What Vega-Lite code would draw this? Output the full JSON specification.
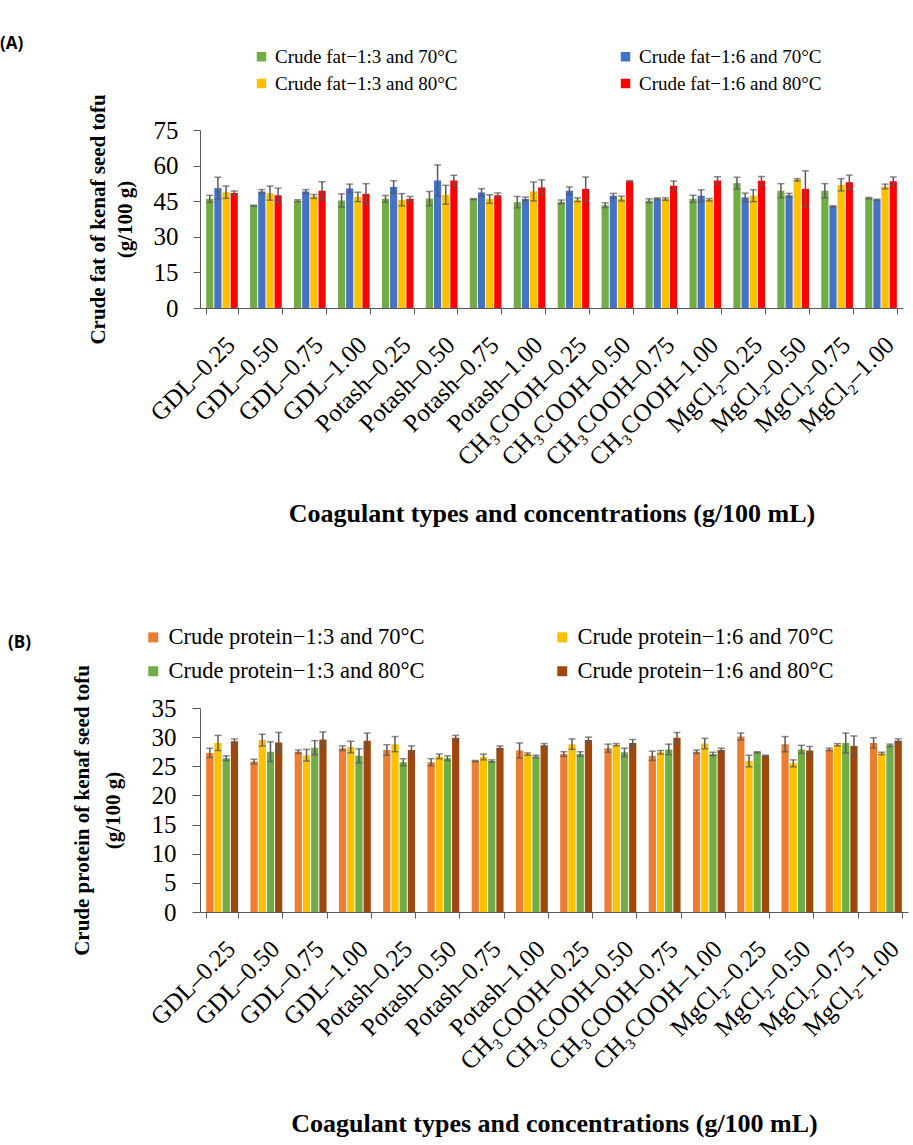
{
  "$schema": "https://vega.github.io/schema/vega-lite/v6.json",
  "background": "white",
  "padding": {"left": 0, "top": 35, "right": 5, "bottom": 5},
  "spacing": 99,
  "config": {
    "font": "Liberation Serif",
    "view": {"stroke": null},
    "axis": {"grid": false, "labelColor": "black", "titleColor": "black", "domainColor": "#595959", "tickColor": "#595959", "labelFont": "Liberation Serif", "titleFont": "Liberation Serif", "labelOverlap": false},
    "legend": {"labelFont": "Liberation Serif", "labelColor": "black"},
    "title": {"font": "Open Sans", "fontWeight": "bold", "color": "black"}
  },
  "resolve": {"scale": {"color": "independent", "xOffset": "independent"}},
  "datasets": {
    "fat": [
      {"c": "GDL–0.25", "s": "Crude fat−1:3 and 70°C", "v": 46.0, "lo": 44.5, "hi": 47.5},
      {"c": "GDL–0.25", "s": "Crude fat−1:6 and 70°C", "v": 50.5, "lo": 45.9, "hi": 55.1},
      {"c": "GDL–0.25", "s": "Crude fat−1:3 and 80°C", "v": 48.8, "lo": 46.2, "hi": 51.4},
      {"c": "GDL–0.25", "s": "Crude fat−1:6 and 80°C", "v": 48.5, "lo": 47.7, "hi": 49.3},
      {"c": "GDL–0.50", "s": "Crude fat−1:3 and 70°C", "v": 43.1, "lo": 42.9, "hi": 43.3},
      {"c": "GDL–0.50", "s": "Crude fat−1:6 and 70°C", "v": 49.1, "lo": 48.3, "hi": 49.9},
      {"c": "GDL–0.50", "s": "Crude fat−1:3 and 80°C", "v": 48.4, "lo": 45.4, "hi": 51.4},
      {"c": "GDL–0.50", "s": "Crude fat−1:6 and 80°C", "v": 47.5, "lo": 44.5, "hi": 50.5},
      {"c": "GDL–0.75", "s": "Crude fat−1:3 and 70°C", "v": 45.2, "lo": 44.8, "hi": 45.6},
      {"c": "GDL–0.75", "s": "Crude fat−1:6 and 70°C", "v": 49.1, "lo": 48.3, "hi": 49.9},
      {"c": "GDL–0.75", "s": "Crude fat−1:3 and 80°C", "v": 47.0, "lo": 46.2, "hi": 47.8},
      {"c": "GDL–0.75", "s": "Crude fat−1:6 and 80°C", "v": 49.4, "lo": 45.6, "hi": 53.2},
      {"c": "GDL–1.00", "s": "Crude fat−1:3 and 70°C", "v": 45.3, "lo": 42.5, "hi": 48.1},
      {"c": "GDL–1.00", "s": "Crude fat−1:6 and 70°C", "v": 50.4, "lo": 48.6, "hi": 52.2},
      {"c": "GDL–1.00", "s": "Crude fat−1:3 and 80°C", "v": 46.8, "lo": 44.8, "hi": 48.8},
      {"c": "GDL–1.00", "s": "Crude fat−1:6 and 80°C", "v": 48.1, "lo": 43.8, "hi": 52.4},
      {"c": "Potash–0.25", "s": "Crude fat−1:3 and 70°C", "v": 46.0, "lo": 44.6, "hi": 47.4},
      {"c": "Potash–0.25", "s": "Crude fat−1:6 and 70°C", "v": 51.0, "lo": 48.4, "hi": 53.6},
      {"c": "Potash–0.25", "s": "Crude fat−1:3 and 80°C", "v": 45.6, "lo": 43.0, "hi": 48.2},
      {"c": "Potash–0.25", "s": "Crude fat−1:6 and 80°C", "v": 46.0, "lo": 45.0, "hi": 47.0},
      {"c": "Potash–0.50", "s": "Crude fat−1:3 and 70°C", "v": 46.1, "lo": 43.1, "hi": 49.1},
      {"c": "Potash–0.50", "s": "Crude fat−1:6 and 70°C", "v": 53.7, "lo": 47.1, "hi": 60.3},
      {"c": "Potash–0.50", "s": "Crude fat−1:3 and 80°C", "v": 47.7, "lo": 43.7, "hi": 51.7},
      {"c": "Potash–0.50", "s": "Crude fat−1:6 and 80°C", "v": 53.7, "lo": 51.5, "hi": 55.9},
      {"c": "Potash–0.75", "s": "Crude fat−1:3 and 70°C", "v": 45.9, "lo": 45.7, "hi": 46.1},
      {"c": "Potash–0.75", "s": "Crude fat−1:6 and 70°C", "v": 48.7, "lo": 47.1, "hi": 50.3},
      {"c": "Potash–0.75", "s": "Crude fat−1:3 and 80°C", "v": 45.9, "lo": 44.1, "hi": 47.7},
      {"c": "Potash–0.75", "s": "Crude fat−1:6 and 80°C", "v": 47.5, "lo": 46.5, "hi": 48.5},
      {"c": "Potash–1.00", "s": "Crude fat−1:3 and 70°C", "v": 44.6, "lo": 42.2, "hi": 47.0},
      {"c": "Potash–1.00", "s": "Crude fat−1:6 and 70°C", "v": 45.9, "lo": 45.1, "hi": 46.7},
      {"c": "Potash–1.00", "s": "Crude fat−1:3 and 80°C", "v": 49.1, "lo": 45.1, "hi": 53.1},
      {"c": "Potash–1.00", "s": "Crude fat−1:6 and 80°C", "v": 50.8, "lo": 47.6, "hi": 54.0},
      {"c": "CH₃COOH–0.25", "s": "Crude fat−1:3 and 70°C", "v": 44.7, "lo": 43.9, "hi": 45.5},
      {"c": "CH₃COOH–0.25", "s": "Crude fat−1:6 and 70°C", "v": 49.4, "lo": 47.8, "hi": 51.0},
      {"c": "CH₃COOH–0.25", "s": "Crude fat−1:3 and 80°C", "v": 45.6, "lo": 44.8, "hi": 46.4},
      {"c": "CH₃COOH–0.25", "s": "Crude fat−1:6 and 80°C", "v": 50.2, "lo": 45.2, "hi": 55.2},
      {"c": "CH₃COOH–0.50", "s": "Crude fat−1:3 and 70°C", "v": 43.3, "lo": 42.3, "hi": 44.3},
      {"c": "CH₃COOH–0.50", "s": "Crude fat−1:6 and 70°C", "v": 47.3, "lo": 46.3, "hi": 48.3},
      {"c": "CH₃COOH–0.50", "s": "Crude fat−1:3 and 80°C", "v": 46.1, "lo": 45.1, "hi": 47.1},
      {"c": "CH₃COOH–0.50", "s": "Crude fat−1:6 and 80°C", "v": 53.4, "lo": 53.1, "hi": 53.7},
      {"c": "CH₃COOH–0.75", "s": "Crude fat−1:3 and 70°C", "v": 45.2, "lo": 44.4, "hi": 46.0},
      {"c": "CH₃COOH–0.75", "s": "Crude fat−1:6 and 70°C", "v": 46.1, "lo": 45.8, "hi": 46.4},
      {"c": "CH₃COOH–0.75", "s": "Crude fat−1:3 and 80°C", "v": 45.9, "lo": 45.4, "hi": 46.4},
      {"c": "CH₃COOH–0.75", "s": "Crude fat−1:6 and 80°C", "v": 51.5, "lo": 49.5, "hi": 53.5},
      {"c": "CH₃COOH–1.00", "s": "Crude fat−1:3 and 70°C", "v": 46.0, "lo": 44.5, "hi": 47.5},
      {"c": "CH₃COOH–1.00", "s": "Crude fat−1:6 and 70°C", "v": 47.3, "lo": 44.8, "hi": 49.8},
      {"c": "CH₃COOH–1.00", "s": "Crude fat−1:3 and 80°C", "v": 45.6, "lo": 45.1, "hi": 46.1},
      {"c": "CH₃COOH–1.00", "s": "Crude fat−1:6 and 80°C", "v": 53.7, "lo": 52.1, "hi": 55.3},
      {"c": "MgCl₂–0.25", "s": "Crude fat−1:3 and 70°C", "v": 52.6, "lo": 50.1, "hi": 55.1},
      {"c": "MgCl₂–0.25", "s": "Crude fat−1:6 and 70°C", "v": 46.6, "lo": 44.8, "hi": 48.4},
      {"c": "MgCl₂–0.25", "s": "Crude fat−1:3 and 80°C", "v": 47.3, "lo": 44.8, "hi": 49.8},
      {"c": "MgCl₂–0.25", "s": "Crude fat−1:6 and 80°C", "v": 53.6, "lo": 51.8, "hi": 55.4},
      {"c": "MgCl₂–0.50", "s": "Crude fat−1:3 and 70°C", "v": 49.4, "lo": 46.4, "hi": 52.4},
      {"c": "MgCl₂–0.50", "s": "Crude fat−1:6 and 70°C", "v": 47.5, "lo": 46.7, "hi": 48.3},
      {"c": "MgCl₂–0.50", "s": "Crude fat−1:3 and 80°C", "v": 54.0, "lo": 53.5, "hi": 54.5},
      {"c": "MgCl₂–0.50", "s": "Crude fat−1:6 and 80°C", "v": 50.2, "lo": 42.6, "hi": 57.8},
      {"c": "MgCl₂–0.75", "s": "Crude fat−1:3 and 70°C", "v": 49.4, "lo": 46.4, "hi": 52.4},
      {"c": "MgCl₂–0.75", "s": "Crude fat−1:6 and 70°C", "v": 42.8, "lo": 42.5, "hi": 43.1},
      {"c": "MgCl₂–0.75", "s": "Crude fat−1:3 and 80°C", "v": 51.9, "lo": 49.3, "hi": 54.5},
      {"c": "MgCl₂–0.75", "s": "Crude fat−1:6 and 80°C", "v": 53.0, "lo": 50.0, "hi": 56.0},
      {"c": "MgCl₂–1.00", "s": "Crude fat−1:3 and 70°C", "v": 46.3, "lo": 46.0, "hi": 46.6},
      {"c": "MgCl₂–1.00", "s": "Crude fat−1:6 and 70°C", "v": 45.6, "lo": 45.4, "hi": 45.8},
      {"c": "MgCl₂–1.00", "s": "Crude fat−1:3 and 80°C", "v": 51.2, "lo": 50.2, "hi": 52.2},
      {"c": "MgCl₂–1.00", "s": "Crude fat−1:6 and 80°C", "v": 53.4, "lo": 51.6, "hi": 55.2}
    ],
    "protein": [
      {"c": "GDL–0.25", "s": "Crude protein−1:3 and 70°C", "v": 27.3, "lo": 26.5, "hi": 28.1},
      {"c": "GDL–0.25", "s": "Crude protein−1:6 and 70°C", "v": 29.0, "lo": 27.7, "hi": 30.3},
      {"c": "GDL–0.25", "s": "Crude protein−1:3 and 80°C", "v": 26.4, "lo": 26.0, "hi": 26.8},
      {"c": "GDL–0.25", "s": "Crude protein−1:6 and 80°C", "v": 29.3, "lo": 28.9, "hi": 29.7},
      {"c": "GDL–0.50", "s": "Crude protein−1:3 and 70°C", "v": 25.8, "lo": 25.4, "hi": 26.2},
      {"c": "GDL–0.50", "s": "Crude protein−1:6 and 70°C", "v": 29.5, "lo": 28.5, "hi": 30.5},
      {"c": "GDL–0.50", "s": "Crude protein−1:3 and 80°C", "v": 27.5, "lo": 25.8, "hi": 29.2},
      {"c": "GDL–0.50", "s": "Crude protein−1:6 and 80°C", "v": 29.1, "lo": 27.4, "hi": 30.8},
      {"c": "GDL–0.75", "s": "Crude protein−1:3 and 70°C", "v": 27.5, "lo": 27.2, "hi": 27.8},
      {"c": "GDL–0.75", "s": "Crude protein−1:6 and 70°C", "v": 26.9, "lo": 25.9, "hi": 27.9},
      {"c": "GDL–0.75", "s": "Crude protein−1:3 and 80°C", "v": 28.2, "lo": 27.0, "hi": 29.4},
      {"c": "GDL–0.75", "s": "Crude protein−1:6 and 80°C", "v": 29.6, "lo": 28.3, "hi": 30.9},
      {"c": "GDL–1.00", "s": "Crude protein−1:3 and 70°C", "v": 28.1, "lo": 27.7, "hi": 28.5},
      {"c": "GDL–1.00", "s": "Crude protein−1:6 and 70°C", "v": 28.3, "lo": 27.3, "hi": 29.3},
      {"c": "GDL–1.00", "s": "Crude protein−1:3 and 80°C", "v": 26.8, "lo": 25.6, "hi": 28.0},
      {"c": "GDL–1.00", "s": "Crude protein−1:6 and 80°C", "v": 29.4, "lo": 28.1, "hi": 30.7},
      {"c": "Potash–0.25", "s": "Crude protein−1:3 and 70°C", "v": 27.8, "lo": 26.9, "hi": 28.7},
      {"c": "Potash–0.25", "s": "Crude protein−1:6 and 70°C", "v": 28.8, "lo": 27.5, "hi": 30.1},
      {"c": "Potash–0.25", "s": "Crude protein−1:3 and 80°C", "v": 25.7, "lo": 25.1, "hi": 26.3},
      {"c": "Potash–0.25", "s": "Crude protein−1:6 and 80°C", "v": 27.8, "lo": 27.1, "hi": 28.5},
      {"c": "Potash–0.50", "s": "Crude protein−1:3 and 70°C", "v": 25.7, "lo": 25.1, "hi": 26.3},
      {"c": "Potash–0.50", "s": "Crude protein−1:6 and 70°C", "v": 26.7, "lo": 26.3, "hi": 27.1},
      {"c": "Potash–0.50", "s": "Crude protein−1:3 and 80°C", "v": 26.4, "lo": 26.0, "hi": 26.8},
      {"c": "Potash–0.50", "s": "Crude protein−1:6 and 80°C", "v": 29.9, "lo": 29.5, "hi": 30.3},
      {"c": "Potash–0.75", "s": "Crude protein−1:3 and 70°C", "v": 25.9, "lo": 25.8, "hi": 26.0},
      {"c": "Potash–0.75", "s": "Crude protein−1:6 and 70°C", "v": 26.6, "lo": 26.1, "hi": 27.1},
      {"c": "Potash–0.75", "s": "Crude protein−1:3 and 80°C", "v": 25.9, "lo": 25.7, "hi": 26.1},
      {"c": "Potash–0.75", "s": "Crude protein−1:6 and 80°C", "v": 28.2, "lo": 27.9, "hi": 28.5},
      {"c": "Potash–1.00", "s": "Crude protein−1:3 and 70°C", "v": 27.7, "lo": 26.4, "hi": 29.0},
      {"c": "Potash–1.00", "s": "Crude protein−1:6 and 70°C", "v": 27.1, "lo": 26.9, "hi": 27.3},
      {"c": "Potash–1.00", "s": "Crude protein−1:3 and 80°C", "v": 26.7, "lo": 26.5, "hi": 26.9},
      {"c": "Potash–1.00", "s": "Crude protein−1:6 and 80°C", "v": 28.6, "lo": 28.3, "hi": 28.9},
      {"c": "CH₃COOH–0.25", "s": "Crude protein−1:3 and 70°C", "v": 27.1, "lo": 26.7, "hi": 27.5},
      {"c": "CH₃COOH–0.25", "s": "Crude protein−1:6 and 70°C", "v": 28.8, "lo": 27.9, "hi": 29.7},
      {"c": "CH₃COOH–0.25", "s": "Crude protein−1:3 and 80°C", "v": 27.1, "lo": 26.7, "hi": 27.5},
      {"c": "CH₃COOH–0.25", "s": "Crude protein−1:6 and 80°C", "v": 29.5, "lo": 29.0, "hi": 30.0},
      {"c": "CH₃COOH–0.50", "s": "Crude protein−1:3 and 70°C", "v": 28.1, "lo": 27.4, "hi": 28.8},
      {"c": "CH₃COOH–0.50", "s": "Crude protein−1:6 and 70°C", "v": 28.7, "lo": 28.5, "hi": 28.9},
      {"c": "CH₃COOH–0.50", "s": "Crude protein−1:3 and 80°C", "v": 27.4, "lo": 26.7, "hi": 28.1},
      {"c": "CH₃COOH–0.50", "s": "Crude protein−1:6 and 80°C", "v": 29.0, "lo": 28.4, "hi": 29.6},
      {"c": "CH₃COOH–0.75", "s": "Crude protein−1:3 and 70°C", "v": 26.8, "lo": 26.0, "hi": 27.6},
      {"c": "CH₃COOH–0.75", "s": "Crude protein−1:6 and 70°C", "v": 27.4, "lo": 27.1, "hi": 27.7},
      {"c": "CH₃COOH–0.75", "s": "Crude protein−1:3 and 80°C", "v": 27.9, "lo": 27.0, "hi": 28.8},
      {"c": "CH₃COOH–0.75", "s": "Crude protein−1:6 and 80°C", "v": 29.9, "lo": 29.0, "hi": 30.8},
      {"c": "CH₃COOH–1.00", "s": "Crude protein−1:3 and 70°C", "v": 27.5, "lo": 27.2, "hi": 27.8},
      {"c": "CH₃COOH–1.00", "s": "Crude protein−1:6 and 70°C", "v": 28.9, "lo": 28.0, "hi": 29.8},
      {"c": "CH₃COOH–1.00", "s": "Crude protein−1:3 and 80°C", "v": 27.1, "lo": 26.8, "hi": 27.4},
      {"c": "CH₃COOH–1.00", "s": "Crude protein−1:6 and 80°C", "v": 27.8, "lo": 27.5, "hi": 28.1},
      {"c": "MgCl₂–0.25", "s": "Crude protein−1:3 and 70°C", "v": 30.1, "lo": 29.5, "hi": 30.7},
      {"c": "MgCl₂–0.25", "s": "Crude protein−1:6 and 70°C", "v": 25.9, "lo": 24.9, "hi": 26.9},
      {"c": "MgCl₂–0.25", "s": "Crude protein−1:3 and 80°C", "v": 27.4, "lo": 27.3, "hi": 27.5},
      {"c": "MgCl₂–0.25", "s": "Crude protein−1:6 and 80°C", "v": 26.8, "lo": 26.7, "hi": 26.9},
      {"c": "MgCl₂–0.50", "s": "Crude protein−1:3 and 70°C", "v": 28.8, "lo": 27.5, "hi": 30.1},
      {"c": "MgCl₂–0.50", "s": "Crude protein−1:6 and 70°C", "v": 25.5, "lo": 24.9, "hi": 26.1},
      {"c": "MgCl₂–0.50", "s": "Crude protein−1:3 and 80°C", "v": 27.9, "lo": 27.2, "hi": 28.6},
      {"c": "MgCl₂–0.50", "s": "Crude protein−1:6 and 80°C", "v": 27.7, "lo": 27.0, "hi": 28.4},
      {"c": "MgCl₂–0.75", "s": "Crude protein−1:3 and 70°C", "v": 27.9, "lo": 27.7, "hi": 28.1},
      {"c": "MgCl₂–0.75", "s": "Crude protein−1:6 and 70°C", "v": 28.7, "lo": 28.5, "hi": 28.9},
      {"c": "MgCl₂–0.75", "s": "Crude protein−1:3 and 80°C", "v": 29.0, "lo": 27.3, "hi": 30.7},
      {"c": "MgCl₂–0.75", "s": "Crude protein−1:6 and 80°C", "v": 28.5, "lo": 26.8, "hi": 30.2},
      {"c": "MgCl₂–1.00", "s": "Crude protein−1:3 and 70°C", "v": 29.0, "lo": 28.1, "hi": 29.9},
      {"c": "MgCl₂–1.00", "s": "Crude protein−1:6 and 70°C", "v": 27.2, "lo": 27.0, "hi": 27.4},
      {"c": "MgCl₂–1.00", "s": "Crude protein−1:3 and 80°C", "v": 28.6, "lo": 28.4, "hi": 28.8},
      {"c": "MgCl₂–1.00", "s": "Crude protein−1:6 and 80°C", "v": 29.4, "lo": 29.1, "hi": 29.7}
    ]
  },
  "vconcat": [
    {
      "width": 703,
      "height": 178,
      "title": {"text": "(A)", "anchor": "start", "frame": "group", "fontSize": 17, "dx": -200, "offset": -6},
      "data": {"name": "fat"},
      "encoding": {
        "x": {"field": "c", "type": "nominal", "sort": null, "scale": {"paddingInner": 0.28, "paddingOuter": 0.14},
          "axis": {"labelAngle": -45, "labelFontSize": 25, "labelLimit": 300, "labelPadding": 18, "tickBand": "extent", "tickSize": 6,
            "title": "Coagulant types and concentrations (g/100 mL)", "titleFontSize": 26, "titleFontWeight": "bold", "titlePadding": 30}},
        "xOffset": {"field": "s", "type": "nominal", "sort": null, "scale": {"paddingInner": 0.12, "paddingOuter": 0}}
      },
      "layer": [
        {"mark": {"type": "bar"},
          "encoding": {
            "y": {"field": "v", "type": "quantitative", "scale": {"domain": [0, 75], "nice": false},
              "axis": {"values": [0, 15, 30, 45, 60, 75], "tickCount": 20, "labelOverlap": false, "labelFontSize": 25, "tickSize": 7, "labelPadding": 15,
                "title": ["Crude fat of kenaf seed tofu", "(g/100 g)"], "titleFontSize": 21, "titleFontWeight": "bold", "titlePadding": 18, "titleLineHeight": 27}},
            "color": {"field": "s", "type": "nominal",
              "scale": {"domain": ["Crude fat−1:3 and 70°C", "Crude fat−1:3 and 80°C", "Crude fat−1:6 and 70°C", "Crude fat−1:6 and 80°C"], "range": ["#70AD47", "#FFC000", "#4472C4", "#FF0000"]},
              "legend": {"title": null, "orient": "none", "legendX": 52, "legendY": -83, "columns": 2, "columnPadding": 158, "rowPadding": 7, "symbolType": "square", "symbolSize": 90, "labelFont": "Liberation Serif", "labelFontSize": 19, "labelLimit": 400, "symbolStrokeWidth": 0}}
          }},
        {"mark": {"type": "rule", "color": "#595959", "strokeWidth": 1.5},
          "encoding": {"y": {"field": "lo", "type": "quantitative", "scale": {"domain": [0, 75], "nice": false}}, "y2": {"field": "hi"}}},
        {"mark": {"type": "tick", "color": "#595959", "size": 7, "thickness": 1.5},
          "encoding": {"y": {"field": "lo", "type": "quantitative", "scale": {"domain": [0, 75], "nice": false}}}},
        {"mark": {"type": "tick", "color": "#595959", "size": 7, "thickness": 1.5},
          "encoding": {"y": {"field": "hi", "type": "quantitative", "scale": {"domain": [0, 75], "nice": false}}}}
      ]
    },
    {
      "width": 708,
      "height": 204,
      "title": {"text": "(B)", "anchor": "start", "frame": "group", "fontSize": 17, "dx": -192, "offset": -26},
      "data": {"name": "protein"},
      "encoding": {
        "x": {"field": "c", "type": "nominal", "sort": null, "scale": {"paddingInner": 0.28, "paddingOuter": 0.14},
          "axis": {"labelAngle": -45, "labelFontSize": 25, "labelLimit": 300, "labelPadding": 18, "tickBand": "extent", "tickSize": 6,
            "title": "Coagulant types and concentrations (g/100 mL)", "titleFontSize": 26, "titleFontWeight": "bold", "titlePadding": 36}},
        "xOffset": {"field": "s", "type": "nominal", "sort": null, "scale": {"paddingInner": 0.12, "paddingOuter": 0}}
      },
      "layer": [
        {"mark": {"type": "bar"},
          "encoding": {
            "y": {"field": "v", "type": "quantitative", "scale": {"domain": [0, 35], "nice": false},
              "axis": {"values": [0, 5, 10, 15, 20, 25, 30, 35], "tickCount": 20, "labelOverlap": false, "labelFontSize": 25, "tickSize": 8, "labelPadding": 16,
                "title": ["Crude protein of kenaf seed tofu", "(g/100 g)"], "titleFontSize": 21, "titleFontWeight": "bold", "titlePadding": 28, "titleLineHeight": 31}},
            "color": {"field": "s", "type": "nominal",
              "scale": {"domain": ["Crude protein−1:3 and 70°C", "Crude protein−1:3 and 80°C", "Crude protein−1:6 and 70°C", "Crude protein−1:6 and 80°C"], "range": ["#ED7D31", "#70AD47", "#FFC000", "#9E480E"]},
              "legend": {"title": null, "orient": "none", "legendX": -58, "legendY": -82, "columns": 2, "columnPadding": 126, "rowPadding": 11, "symbolType": "square", "symbolSize": 100, "labelFont": "Liberation Serif", "labelFontSize": 22.5, "labelLimit": 400, "symbolStrokeWidth": 0}}
          }},
        {"mark": {"type": "rule", "color": "#595959", "strokeWidth": 1.5},
          "encoding": {"y": {"field": "lo", "type": "quantitative", "scale": {"domain": [0, 35], "nice": false}}, "y2": {"field": "hi"}}},
        {"mark": {"type": "tick", "color": "#595959", "size": 7, "thickness": 1.5},
          "encoding": {"y": {"field": "lo", "type": "quantitative", "scale": {"domain": [0, 35], "nice": false}}}},
        {"mark": {"type": "tick", "color": "#595959", "size": 7, "thickness": 1.5},
          "encoding": {"y": {"field": "hi", "type": "quantitative", "scale": {"domain": [0, 35], "nice": false}}}}
      ]
    }
  ]
}
